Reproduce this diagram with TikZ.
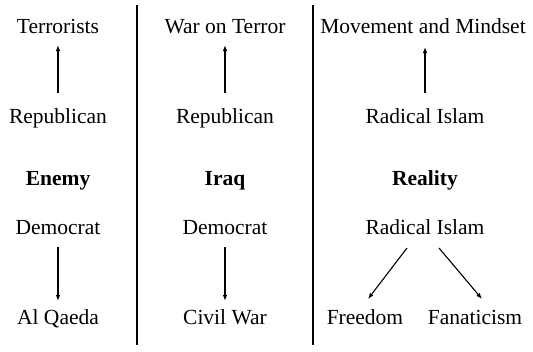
\documentclass[tikz,border=0pt]{standalone}
\usepackage{fontspec}
\setmainfont{Liberation Serif}
\usetikzlibrary{arrows.meta,calc}
\begin{document}
\begin{tikzpicture}[x=1pt,y=-1pt,
  lbl/.style={anchor=base,inner sep=0pt,outer sep=0pt,text height=14pt,text depth=4pt,font=\fontsize{21.5}{26}\selectfont},
  blbl/.style={lbl,font=\fontsize{21.5}{26}\selectfont\bfseries},
  arr/.style={-{Latex[length=6pt,width=4.5pt]},line width=1.1pt},
  sep/.style={line width=1.6pt}]
\useasboundingbox (0,0) rectangle (533,351);
% column 1
\node[lbl] (ter) at (58,33) {Terrorists};
\node[lbl] (rep1) at (58,123) {Republican};
\node[blbl] (enemy) at (58,185) {Enemy};
\node[lbl] (dem1) at (58,234) {Democrat};
\node[lbl] (alq) at (58,324) {Al Qaeda};
% column 2
\node[lbl] (wot) at (225,33) {War on Terror};
\node[lbl] (rep2) at (225,123) {Republican};
\node[blbl] (iraq) at (225,185) {Iraq};
\node[lbl] (dem2) at (225,234) {Democrat};
\node[lbl] (civ) at (225,324) {Civil War};
% column 3
\node[lbl] (mov) at (423,33) {Movement and Mindset};
\node[lbl] (rad1) at (425,123) {Radical Islam};
\node[blbl] (real) at (425,185) {Reality};
\node[lbl] (rad2) at (425,234) {Radical Islam};
\node[lbl] (free) at (365,324) {Freedom};
\node[lbl] (fan) at (475,324) {Fanaticism};
% separators
\coordinate (s1t) at (137,5); \coordinate (s1b) at (137,345);
\coordinate (s2t) at (313,5); \coordinate (s2b) at (313,345);
\draw[sep] (s1t) -- (s1b);
\draw[sep] (s2t) -- (s2b);
% arrows
\draw[arr,shorten <=16pt,shorten >=8pt] (rep1.north) -- (ter.south);
\draw[arr,shorten <=16pt,shorten >=8pt] (rep2.north) -- (wot.south);
\draw[arr,shorten <=16pt,shorten >=10pt] (rad1.north) -- (rad1.north |- mov.south);
\draw[arr,shorten <=9pt,shorten >=9pt] (dem1.south) -- (alq.north);
\draw[arr,shorten <=9pt,shorten >=9pt] (dem2.south) -- (civ.north);
\draw[arr] ($(rad2.south)+(-18,10)$) -- ($(free.north)+(3,-11)$);
\draw[arr] ($(rad2.south)+(14,10)$) -- ($(fan.north)+(7,-11)$);
\end{tikzpicture}
\end{document}
